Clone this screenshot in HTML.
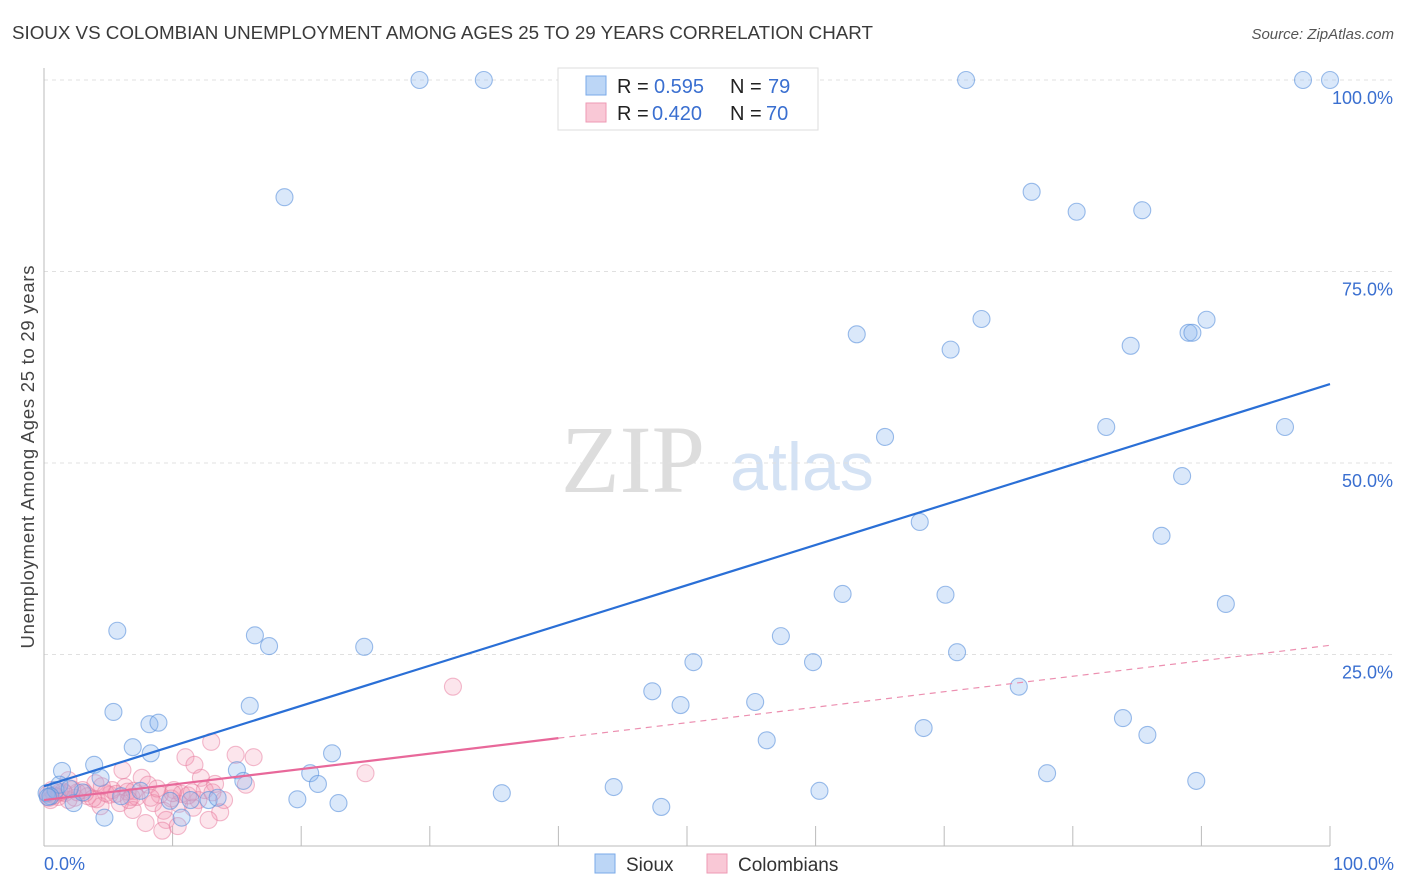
<!DOCTYPE html>
<html><head><meta charset="utf-8"><style>
body{margin:0;background:#fff;font-family:"Liberation Sans",sans-serif;}
svg{display:block}
</style></head><body>
<svg id="chart" width="1406" height="892">
<text x="12" y="39" font-size="18.8" fill="#3a3a3a" textLength="861">SIOUX VS COLOMBIAN UNEMPLOYMENT AMONG AGES 25 TO 29 YEARS CORRELATION CHART</text>
<text x="1394" y="39" font-size="15" fill="#555" font-style="italic" text-anchor="end">Source: ZipAtlas.com</text>
<text x="633" y="492" font-size="96" fill="#ddd" font-family="Liberation Serif,serif" text-anchor="middle">ZIP</text>
<text x="802" y="490" font-size="68" fill="#d4e2f4" text-anchor="middle">atlas</text>
<text transform="translate(34,457) rotate(-90)" font-size="18.5" fill="#444" text-anchor="middle" textLength="383">Unemployment Among Ages 25 to 29 years</text>
<g id="grid"></g><g id="pts"></g><g id="lines"></g>
<g>
<rect x="558" y="68" width="260" height="62" fill="#fff" stroke="#ddd"/>
<rect x="586" y="76" width="20" height="19" fill="#bcd6f6" stroke="#7aaae8"/>
<rect x="586" y="103" width="20" height="19" fill="#f9c8d6" stroke="#ee9ab4"/>
<text x="617" y="93" font-size="20" fill="#222">R = <tspan x="654" fill="#3a6fd0">0.595</tspan><tspan x="730">N = </tspan><tspan x="768" fill="#3a6fd0">79</tspan></text>
<text x="617" y="120" font-size="20" fill="#222">R = <tspan x="652" fill="#3a6fd0">0.420</tspan><tspan x="730">N = </tspan><tspan x="766" fill="#3a6fd0">70</tspan></text>
</g>
<g>
<rect x="595" y="854" width="20" height="19" fill="#bcd6f6" stroke="#7aaae8"/>
<text x="626" y="871" font-size="19" fill="#333">Sioux</text>
<rect x="707" y="854" width="20" height="19" fill="#f9c8d6" stroke="#ee9ab4"/>
<text x="738" y="871" font-size="19" fill="#333">Colombians</text>
</g>
<text x="44" y="870" font-size="18" fill="#3a6fd0">0.0%</text>
<text x="1394" y="870" font-size="18" fill="#3a6fd0" text-anchor="end">100.0%</text>
</svg>
<script>
const yTicks=[25,50,75,100];
const yTickLabels=["25.0%","50.0%","75.0%","100.0%"];
const xTicks=[10,20,30,40,50,60,70,80,90,100];
const siouxX=[29.2,34.2,71.7,97.9,100,18.7,76.8,80.3,85.4,63.2,72.9,70.5,84.5,89.0,89.3,90.4,65.4,82.6,96.5,88.5,68.1,86.9,62.1,70.1,91.9,5.7,16.4,17.5,24.9,57.3,50.5,59.8,71.0,47.3,49.5,55.3,75.8,5.4,8.2,8.9,16.0,83.9,68.4,85.8,56.2,6.9,8.3,22.4,3.9,1.4,15.0,20.7,78.0,89.6,4.4,15.5,21.3,44.3,35.6,60.3,19.7,22.9,48.0,4.7,10.7,2.3,12.8,11.4,9.8,0.2,0.9,1.2,0.5,3.0,6.0,7.5,13.5,2.0,0.3];
const siouxY=[100,100,100,100,100,84.7,85.4,82.8,83.0,66.8,68.8,64.8,65.3,67.0,67.0,68.7,53.4,54.7,54.7,48.3,42.3,40.5,32.9,32.8,31.6,28.1,27.5,26.1,26.0,27.4,24.0,24.0,25.3,20.2,18.4,18.8,20.8,17.5,15.9,16.1,18.3,16.7,15.4,14.5,13.8,12.9,12.1,12.1,10.6,9.8,9.9,9.5,9.5,8.5,8.9,8.5,8.1,7.7,6.9,7.2,6.1,5.6,5.1,3.7,3.7,5.6,6.0,6.0,5.9,6.9,7.3,8.0,6.5,7.0,6.5,7.2,6.3,7.5,6.4];
const colX=[31.8,25.0,13.0,14.9,16.3,11.0,11.7,6.1,7.6,12.2,13.3,15.7,8.1,1.9,4.0,6.3,10.1,9.0,6.8,5.1,3.0,14.0,12.0,10.5,8.5,5.9,4.1,2.4,1.1,0.5,13.7,11.6,9.3,6.9,4.4,7.9,9.5,12.8,9.2,10.4,7.2,3.4,1.6,0.6,10.7,1.9,5.3,12.5,2.6,4.8,6.5,8.8,11.2,0.3,1.2,3.8,5.6,7.0,9.9,13.1,2.2,4.5,0.8,1.5,3.2,6.6,8.3,10.0,11.5,0.4];
const colY=[20.8,9.5,13.6,11.9,11.6,11.6,10.6,9.9,8.9,8.9,8.1,8.0,8.0,8.6,8.2,7.7,7.3,6.7,6.4,6.7,7.3,6.0,6.0,5.5,5.6,5.6,6.1,6.3,6.4,6.0,4.4,5.0,4.6,4.7,5.2,3.0,3.4,3.4,2.0,2.6,6.4,6.5,6.9,7.3,6.8,6.0,7.3,7.3,7.0,6.9,7.1,7.5,6.6,6.8,7.0,6.2,6.8,7.2,6.2,7.0,7.4,7.8,6.6,7.1,6.9,6.0,6.3,6.9,7.0,6.3];
const siouxLine=[7.8,60.3];
const colLine=[6.0,26.2];
const colSolidEnd=40;
const X=v=>44+v*12.86, Y=v=>846-v*7.66;
const NS='http://www.w3.org/2000/svg';
function mk(t,a,p){const e=document.createElementNS(NS,t);for(const k in a)e.setAttribute(k,a[k]);p.appendChild(e);return e;}
const grid=document.getElementById('grid'),pts=document.getElementById('pts'),lines=document.getElementById('lines');
yTicks.forEach((v,i)=>{
 const l=mk('line',{x1:44,x2:1394,y1:Y(v),y2:Y(v),stroke:'#e0e0e0','stroke-dasharray':'4,4'},grid);
 
 
 const t=mk('text',{x:1393,y:Y(v)+24,'font-size':18,fill:'#3a6fd0','text-anchor':'end'},grid);
 t.textContent=yTickLabels[i];
 
 
});
const ax=mk('line',{x1:44,x2:44,y1:68,y2:846,stroke:'#bbb'},grid);


const bx=mk('line',{x1:44,x2:1330,y1:846,y2:846,stroke:'#bbb'},grid);


xTicks.forEach(v=>{
 const t=mk('line',{x1:X(v),x2:X(v),y1:826,y2:846,stroke:'#bbb'},grid);
 
 
});
colX.forEach((x,i)=>{
 const c=mk('circle',{cx:X(x),cy:Y(colY[i]),r:8.5,fill:'rgba(244,150,178,0.25)',stroke:'rgba(232,120,155,0.5)','stroke-width':1.1},pts);
 
 
});
siouxX.forEach((x,i)=>{
 const c=mk('circle',{cx:X(x),cy:Y(siouxY[i]),r:8.5,fill:'rgba(140,182,238,0.32)',stroke:'rgba(90,145,220,0.6)','stroke-width':1.1},pts);
 
 
});
const cy=v=>colLine[0]+(colLine[1]-colLine[0])*v/100;
const l1=mk('line',{x1:X(0),y1:Y(siouxLine[0]),x2:X(100),y2:Y(siouxLine[1]),stroke:'#2a6fd6','stroke-width':2.2},lines);


const l2=mk('line',{x1:X(0),y1:Y(cy(0)),x2:X(colSolidEnd),y2:Y(cy(colSolidEnd)),stroke:'#e8689a','stroke-width':2.2},lines);


const l3=mk('line',{x1:X(colSolidEnd),y1:Y(cy(colSolidEnd)),x2:X(100),y2:Y(cy(100)),stroke:'#ec8fb0','stroke-width':1.2,'stroke-dasharray':'6,5'},lines);


</script>
</body></html>
